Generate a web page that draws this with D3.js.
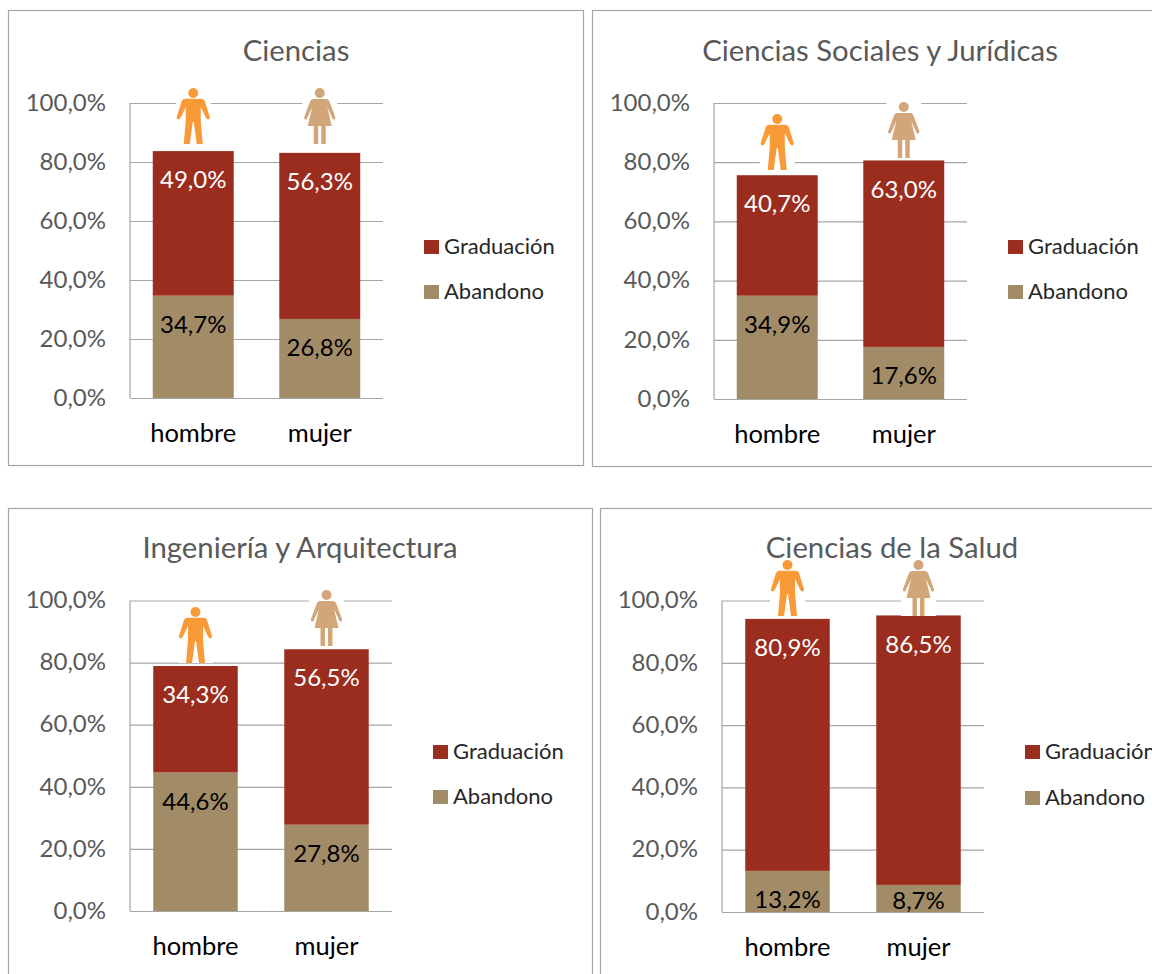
<!DOCTYPE html>
<html><head><meta charset="utf-8">
<script src="https://cdn.jsdelivr.net/npm/d3@7"></script>
<style>html,body{margin:0;padding:0;background:#fff;overflow:hidden}svg{display:block}text{font-family:Lato,sans-serif}</style>
</head><body><svg id="c" width="1152" height="974"></svg>
<script>
const genders = ["hombre","mujer"];
const seriesNames = ["Graduación","Abandono"];
const tickValues = [0,20,40,60,80,100];
const titles = ["Ciencias","Ciencias Sociales y Jurídicas","Ingeniería y Arquitectura","Ciencias de la Salud"];
const abandono = [[34.7,26.8],[34.9,17.6],[44.6,27.8],[13.2,8.7]];
const graduacion = [[49.0,56.3],[40.7,63.0],[34.3,56.5],[80.9,86.5]];

const layouts = [
 {frame:[8,10,575,455], x:[130,383], y:[398,103], titleX:296, titleY:51, legX:424, legY:[247,292], iconTop:[88,88], pad:.36},
 {frame:[592,10,575,456], x:[714,967], y:[399,103], titleX:880, titleY:51, legX:1008, legY:[247,292], iconTop:[114,102], pad:.36},
 {frame:[8,508,584,480], x:[130,392], y:[911,600.5], titleX:300, titleY:548, legX:433, legY:[752,797], iconTop:[607,590], pad:.355},
 {frame:[600,508,584,480], x:[722,984], y:[912,600.5], titleX:892, titleY:548, legX:1025, legY:[752,798], iconTop:[560,560], pad:.355}
];
const colors = {"Graduación":"#9B2D1F","Abandono":"#A28C68"};
const manPath = "M-8,10.7 L8,10.7 Q10.5,10.7 11.5,13 L16.5,29 Q17,31 15,31.5 Q13.5,31.5 12.5,29.5 L7.5,19 L7.5,33 L9.5,56 L3.5,56 L0.5,34 L-0.5,34 L-3.5,56 L-9.5,56 L-7.5,33 L-7.5,19 L-12.5,29.5 Q-13.5,31.5 -15,31.5 Q-17,31 -16.5,29 L-11.5,13 Q-10.5,10.7 -8,10.7 Z";
const womanPath = "M-6.5,11 L6.5,11 Q8.5,11 9.5,13 L15.5,29 Q16,31 14.5,31.5 Q13,32 12.5,30 L7.5,19 L12,38 L6,38 L6,56 L1.5,56 L1.5,38 L-1.5,38 L-1.5,56 L-6,56 L-6,38 L-12,38 L-7.5,19 L-12.5,30 Q-13,32 -14.5,31.5 Q-16,31 -15.5,29 L-9.5,13 Q-8.5,11 -6.5,11 Z";
const iconColors = ["#F79A37","#D2A679"];
const iconPaths = [manPath, womanPath];
const fmtAxis = v => d3.format(".1f")(v).replace(".",",")+"%";
const FS = {tick:24, label:24, cat:25.5, title:29.3, leg:22};

const svg = d3.select("#c");
layouts.forEach((L,i)=>{
  const g = svg.append("g");
  g.append("rect").attr("x",L.frame[0]+.5).attr("y",L.frame[1]+.5).attr("width",L.frame[2]).attr("height",L.frame[3])
    .attr("fill","#fff").attr("stroke","#A6A6A6").attr("stroke-width",1.2);
  const x = d3.scaleBand().domain(genders).range(L.x).paddingInner(L.pad).paddingOuter(L.pad/2);
  const y = d3.scaleLinear().domain([0,100]).range(L.y);
  const yAxis = d3.axisLeft(y).tickValues(tickValues).tickFormat(fmtAxis).tickSize(-(L.x[1]-L.x[0])).tickPadding(24);
  const ag = g.append("g").attr("transform",`translate(${L.x[0]},0)`).call(yAxis);
  ag.select(".domain").attr("stroke","#A6A6A6").attr("stroke-width",1.2).attr("d",`M0,${L.y[1]}V${L.y[0]}`);
  ag.selectAll(".tick line").attr("stroke","#A6A6A6").attr("stroke-width",1.2);
  ag.selectAll("text").attr("fill","#595959").attr("dy","0.3em").style("font-size",FS.tick+"px").style("font-family","Lato,sans-serif");

  const rows = genders.map((k,j)=>({k,a:abandono[i][j],g:graduacion[i][j]}));
  const stack = d3.stack().keys(["a","g"])(rows);
  stack.forEach((s,si)=>{
    const col = si===0?colors["Abandono"]:colors["Graduación"];
    g.append("g").selectAll("rect").data(s).join("rect")
      .attr("x",d=>x(d.data.k)).attr("width",x.bandwidth())
      .attr("y",d=>y(d[1])).attr("height",d=>y(d[0])-y(d[1])).attr("fill",col);
    g.append("g").selectAll("text").data(s).join("text")
      .attr("x",d=>x(d.data.k)+x.bandwidth()/2)
      .attr("y",d=>Math.min(y(d[1])+31, y(d[0])-9))
      .attr("text-anchor","middle").attr("dominant-baseline","middle")
      .attr("fill",si===0?"#000":"#fff").style("font-size",FS.label+"px")
      .text(d=>fmtAxis(d[1]-d[0]));
  });
  genders.forEach((k,j)=>{
    const cx = x(k)+x.bandwidth()/2, t = L.iconTop[j];
    const ic = g.append("g").attr("transform",`translate(${cx},${t})`);
    ic.append("rect").attr("x",-17.5).attr("y",0).attr("width",35).attr("height",56).attr("fill","#fff");
    ic.append("circle").attr("cx",0).attr("cy",5).attr("r",5).attr("fill",iconColors[j]);
    ic.append("path").attr("d",iconPaths[j]).attr("fill",iconColors[j]);
    g.append("text").attr("x",cx).attr("y",L.y[0]+38).attr("text-anchor","middle").attr("dominant-baseline","middle")
      .attr("fill","#000").style("font-size",FS.cat+"px").text(k);
  });
  g.append("text").attr("x",L.titleX).attr("y",L.titleY+3).attr("text-anchor","middle").attr("dominant-baseline","middle")
    .attr("fill","#595959").style("font-size",FS.title+"px").text(titles[i]);
  seriesNames.forEach((n,j)=>{
    g.append("rect").attr("x",L.legX).attr("y",L.legY[j]-7).attr("width",15).attr("height",14).attr("fill",colors[n]);
    g.append("text").attr("x",L.legX+20).attr("y",L.legY[j]+1).attr("dominant-baseline","middle")
      .attr("fill","#262626").style("font-size",FS.leg+"px").text(n);
  });
});
</script></body></html>
